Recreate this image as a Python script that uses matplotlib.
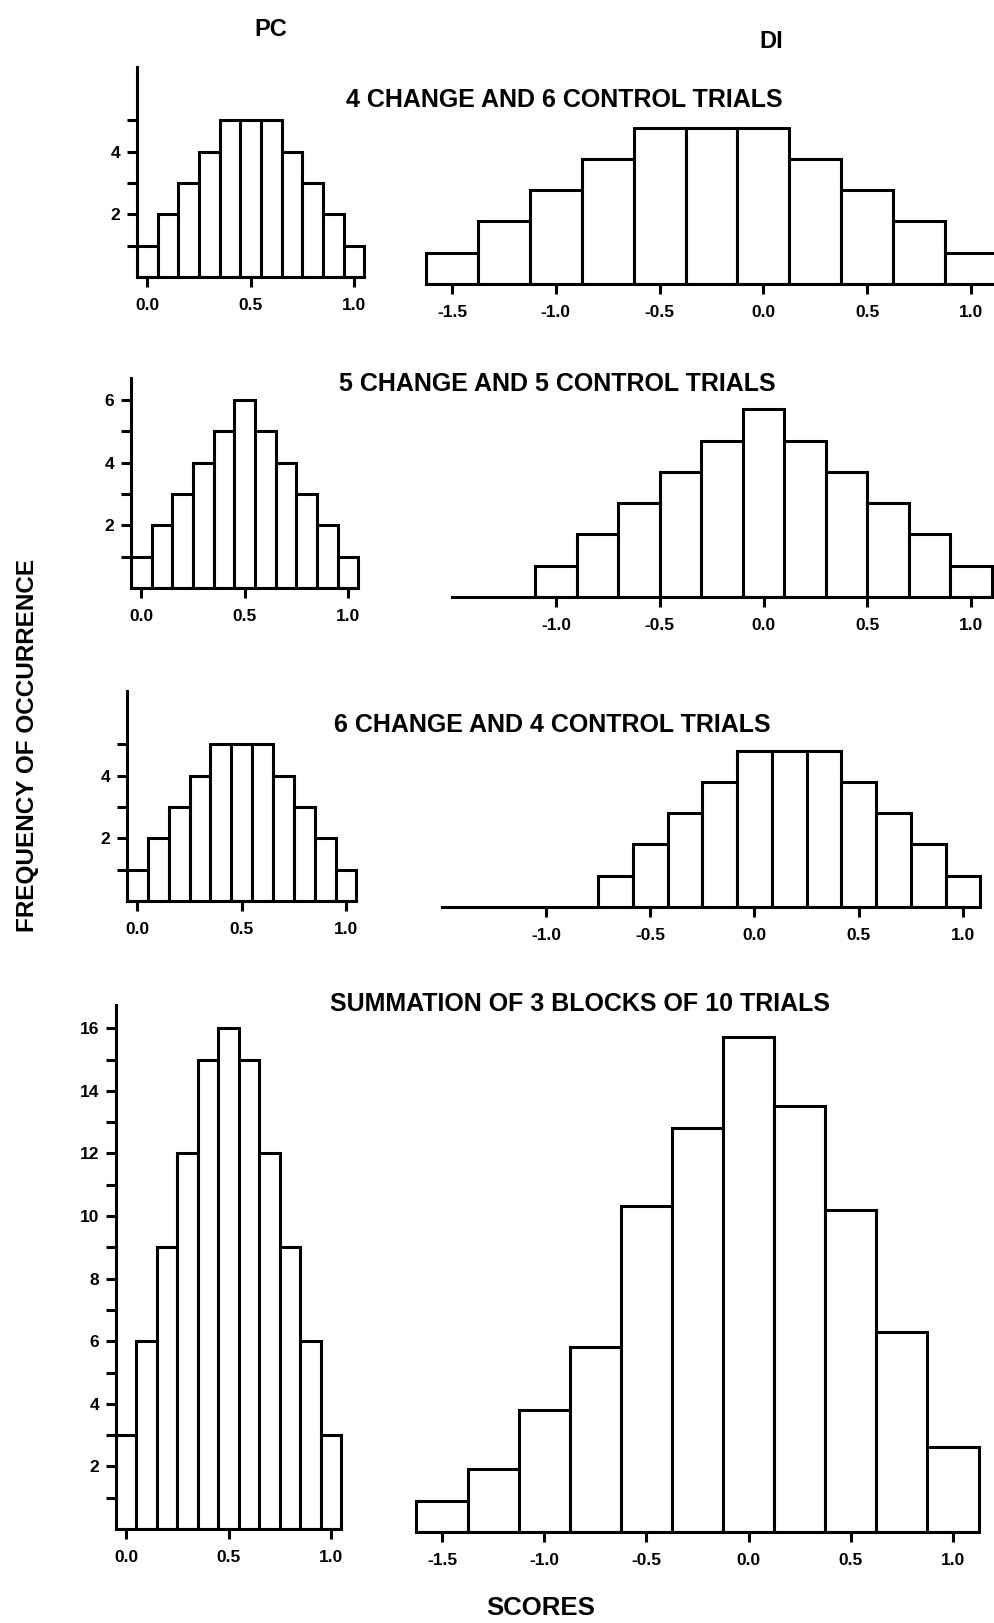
import matplotlib
matplotlib.use("Agg")
import matplotlib.pyplot as plt
import numpy as np

plt.rcParams['font.family'] = ['Liberation Sans', 'DejaVu Sans']
plt.rcParams['font.weight'] = 'bold'

# ---- data ----
pc_x = [0.0, 0.1, 0.2, 0.3, 0.4, 0.5, 0.6, 0.7, 0.8, 0.9, 1.0]
pc_block1 = [1, 2, 3, 4, 5, 5, 5, 4, 3, 2, 1]
pc_block2 = [1, 2, 3, 4, 5, 6, 5, 4, 3, 2, 1]
pc_block3 = [1, 2, 3, 4, 5, 5, 5, 4, 3, 2, 1]
pc_sum = [3, 6, 9, 12, 15, 16, 15, 12, 9, 6, 3]

di_x1 = [-1.5, -1.25, -1.0, -0.75, -0.5, -0.25, 0.0, 0.25, 0.5, 0.75, 1.0]
di_block1 = [1, 2, 3, 4, 5, 5, 5, 4, 3, 2, 1]
di_x2 = [-1.0, -0.8, -0.6, -0.4, -0.2, 0.0, 0.2, 0.4, 0.6, 0.8, 1.0]
di_block2 = [1, 2, 3, 4, 5, 6, 5, 4, 3, 2, 1]
di_x3 = [-0.667, -0.5, -0.333, -0.167, 0.0, 0.167, 0.333, 0.5, 0.667, 0.833, 1.0]
di_block3 = [1, 2, 3, 4, 5, 5, 5, 4, 3, 2, 1]
di_sum = [1, 2, 3.9, 5.9, 10.4, 12.9, 15.8, 13.6, 10.3, 6.4, 2.7]

titles = ["4 CHANGE AND 6 CONTROL TRIALS", "5 CHANGE AND 5 CONTROL TRIALS",
          "6 CHANGE AND 4 CONTROL TRIALS", "SUMMATION OF 3 BLOCKS OF 10 TRIALS"]
pc_ticks = [0.0, 0.5, 1.0]
di_ticks_wide = [-1.5, -1.0, -0.5, 0.0, 0.5, 1.0]
di_ticks_narrow = [-1.0, -0.5, 0.0, 0.5, 1.0]
# y ticks: every count up to these, labels on the even ones
pc_ytick_top = [5, 6, 5, 16]

W, H = 995, 1623
SY = 31.3  # pixels per count
LW = 2.2

fig = plt.figure(figsize=(W / 100, H / 100), dpi=100)
fig.patch.set_facecolor("white")


def make_axes(x_a, px_a, x_b, px_b, base, ymax, xlim):
    sx = (px_b - px_a) / (x_b - x_a)
    left = px_a + (xlim[0] - x_a) * sx
    right = px_a + (xlim[1] - x_a) * sx
    top = base - ymax * SY
    ax = fig.add_axes([left / W, 1 - base / H, (right - left) / W, (base - top) / H])
    ax.set_xlim(*xlim)
    ax.set_ylim(0, ymax)
    ax.patch.set_alpha(0)
    for s in ["top", "right"]:
        ax.spines[s].set_visible(False)
    return ax


def fmt(v):
    return ("-" if v < 0 else "") + "%.1f" % abs(v)


def draw_hist(ax, xs, counts):
    w = np.diff(xs).mean()
    ax.bar(xs, counts, width=w, facecolor="white", edgecolor="black", linewidth=LW, zorder=2)


def pc_panel(base, spine_px, one_px, counts, ymax, ytop):
    ax = make_axes(-0.05, spine_px, 1.0, one_px, base, ymax, (-0.05, 1.07))
    draw_hist(ax, pc_x, counts)
    ax.spines["left"].set_linewidth(LW)
    ax.spines["bottom"].set_linewidth(LW)
    ax.spines["bottom"].set_bounds(-0.05, 1.05)
    ax.set_xticks(pc_ticks)
    ax.set_xticklabels([fmt(t) for t in pc_ticks])
    yt = list(range(1, ytop + 1))
    ax.set_yticks(yt)
    ax.set_yticklabels([str(t) if t % 2 == 0 else "" for t in yt])
    ax.tick_params(axis="both", direction="out", length=7, width=LW, labelsize=12.5, pad=8)
    ax.tick_params(axis="y", pad=5)
    return ax


def di_panel(base, x_a, px_a, x_b, px_b, xs, counts, ymax, xlim, line_from, ticks):
    ax = make_axes(x_a, px_a, x_b, px_b, base, ymax, xlim)
    draw_hist(ax, xs, counts)
    ax.spines["left"].set_visible(False)
    ax.spines["bottom"].set_linewidth(LW)
    ax.spines["bottom"].set_bounds(line_from, xs[-1] + np.diff(xs).mean() / 2)
    ax.set_yticks([])
    ax.set_xticks(ticks)
    ax.set_xticklabels([fmt(t) for t in ticks])
    ax.tick_params(axis="x", direction="out", length=7, width=LW, labelsize=12.5, pad=8)
    return ax


# row 1
pc_panel(277, 137, 354, pc_block1, 6.7, pc_ytick_top[0])
di_panel(284, -1.5, 452, 1.0, 971, di_x1, di_block1, 6.0, (-1.64, 1.11), -1.625, di_ticks_wide)
# row 2
pc_panel(588, 131, 348, pc_block2, 6.7, pc_ytick_top[1])
di_panel(597, -1.0, 556, 1.0, 971, di_x2, di_block2, 6.5, (-1.5, 1.12), -1.5, di_ticks_narrow)
# row 3
pc_panel(901, 127, 346, pc_block3, 6.7, pc_ytick_top[2])
di_panel(907, -1.0, 546, 1.0, 963, di_x3, di_block3, 6.0, (-1.5, 1.1), -1.5, di_ticks_narrow)
# row 4
pc_panel(1529, 116, 331, pc_sum, 16.75, pc_ytick_top[3])
di_panel(1532, -1.5, 442, 1.0, 953, di_x1, di_sum, 16.5, (-1.64, 1.14), -1.625, di_ticks_wide)

# titles and labels
title_pos = [(564, 100), (557, 384), (552, 725), (580, 1004)]
for t, (x, y) in zip(titles, title_pos):
    fig.text(x / W, 1 - y / H, t, ha="center", va="center", fontsize=18, fontweight="bold")

fig.text(271 / W, 1 - 29 / H, "PC", ha="center", va="center", fontsize=17, fontweight="bold")
fig.text(771 / W, 1 - 41 / H, "DI", ha="center", va="center", fontsize=17, fontweight="bold")
fig.text(541 / W, 1 - 1608 / H, "SCORES", ha="center", va="center", fontsize=18.5, fontweight="bold")
fig.text(28 / W, 1 - 745 / H, "FREQUENCY OF OCCURRENCE", ha="center", va="center",
         rotation=90, fontsize=17.5, fontweight="bold")

fig.savefig("out.png", dpi=100, facecolor="white")
